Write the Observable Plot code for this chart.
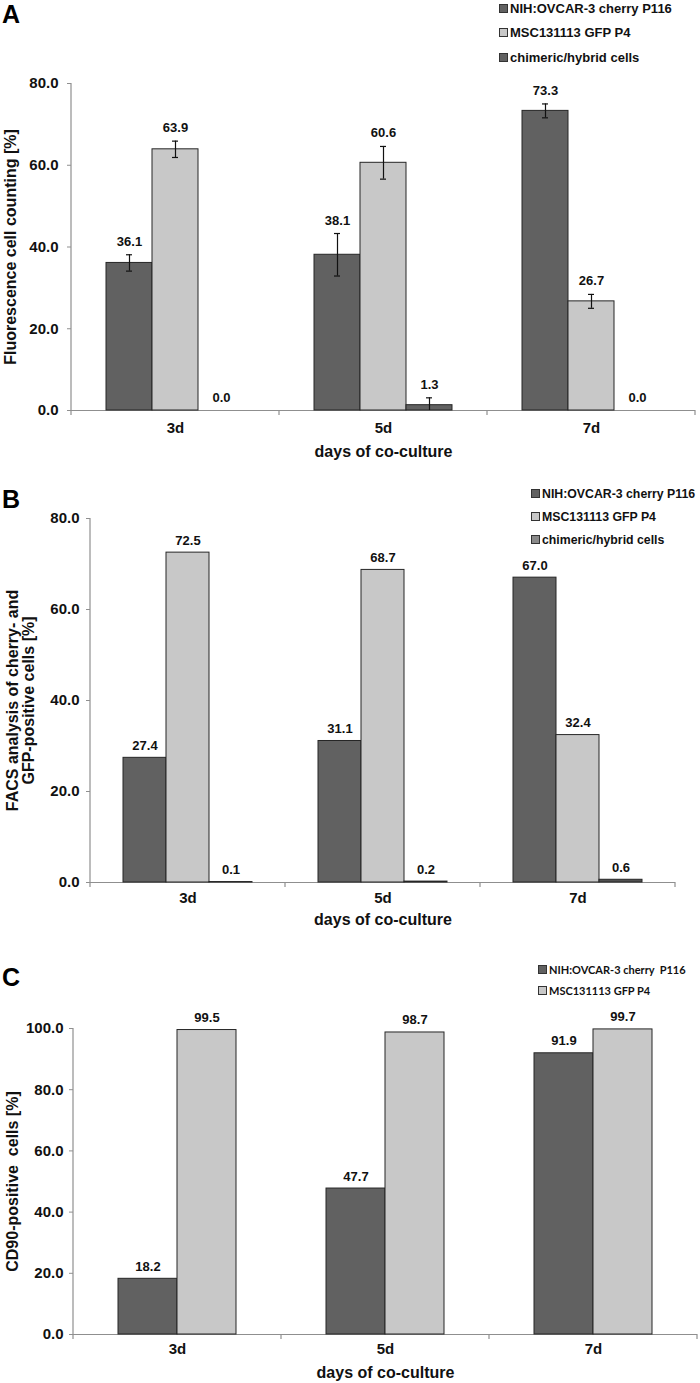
<!DOCTYPE html>
<html>
<head>
<meta charset="utf-8">
<script src="https://cdn.jsdelivr.net/npm/d3@7"></script>
<script src="https://cdn.jsdelivr.net/npm/@observablehq/plot@0.6"></script>
<style>
  html, body { margin: 0; padding: 0; background: #fff; }
  #wrap { position: relative; width: 700px; height: 1383px; background: #fff; font-family: "Liberation Sans", Arial, sans-serif; }
  .panel { position: absolute; left: 0; width: 700px; }
  .letter { position: absolute; left: 2px; font-weight: bold; font-size: 25px; line-height: 1; color: #000; }
  .legend { position: absolute; font-weight: bold; color: #111; }
  .legend .row { display: flex; align-items: center; white-space: pre; }
  .legend .sw { width: 7px; height: 7px; border: 1px solid #333; margin-right: 2px; flex: none; }
  svg g[aria-label$="axis label"] text { font-size: 16px; font-weight: bold; }
</style>
</head>
<body>
<div id="wrap"></div>
<script>
// ---------- data ----------
const days = ["3d", "5d", "7d"];
const seriesAB = ["NIH:OVCAR-3 cherry P116", "MSC131113 GFP P4", "chimeric/hybrid cells"];
const seriesC = ["NIH:OVCAR-3 cherry  P116", "MSC131113 GFP P4"];

// Panel A: fluorescence cell counting (mean, error)
const aOvcar = [36.1, 38.1, 73.3];
const aMsc = [63.9, 60.6, 26.7];
const aHybrid = [0.0, 1.3, 0.0];
const aOvcarErr = [2.0, 5.2, 1.7];
const aMscErr = [2.0, 4.0, 1.7];
const aHybridErr = [0.0, 1.8, 0.0];

// Panel B: FACS analysis
const bOvcar = [27.4, 31.1, 67.0];
const bMsc = [72.5, 68.7, 32.4];
const bHybrid = [0.1, 0.2, 0.6];

// Panel C: CD90-positive cells
const cOvcar = [18.2, 47.7, 91.9];
const cMsc = [99.5, 98.7, 99.7];

const yTicksAB = [0, 20, 40, 60, 80];
const yTicksC = [0, 20, 40, 60, 80, 100];

const colorsA = ["#616161", "#c8c8c8", "#616161"];
const colorsB = ["#616161", "#c8c8c8", "#505050"];
const legendB = ["#616161", "#c8c8c8", "#8a8a8a"];
const colorsC = ["#616161", "#c8c8c8"];

const fmt = d3.format(".1f");
const wrap = document.getElementById("wrap");

function buildRows(series, values, errors) {
  return days.flatMap((d, i) => series.map((s, j) => ({
    day: d, series: s, value: values[j][i], err: errors ? errors[j][i] : 0
  })));
}

function panel(cfg) {
  const rows = buildRows(cfg.series, cfg.values, cfg.errors);
  const errRows = rows.filter(r => r.err > 0);
  const marks = [
    Plot.ruleY([0], {stroke: "#8f8f8f", strokeWidth: 1.2}),
    Plot.barY(rows, {fx: "day", x: "series", y: "value", fill: "series", stroke: "#262626", strokeWidth: 1}),
    Plot.ruleX(errRows, {fx: "day", x: "series", y1: d => Math.max(0, d.value - d.err), y2: d => d.value + d.err, stroke: "#111", strokeWidth: 1.2}),
    Plot.tickY(errRows, {fx: "day", x: "series", y: d => d.value + d.err, stroke: "#111", strokeWidth: 1.2, insetLeft: cfg.capInset, insetRight: cfg.capInset}),
    Plot.tickY(errRows.filter(d => d.value - d.err > 0), {fx: "day", x: "series", y: d => d.value - d.err, stroke: "#111", strokeWidth: 1.2, insetLeft: cfg.capInset, insetRight: cfg.capInset}),
    Plot.text(rows, {fx: "day", x: "series", y: d => d.value + d.err, text: d => fmt(d.value), dy: cfg.valueDy, lineAnchor: "bottom", fontSize: 13, fontWeight: "bold", fill: "#111"}),
    Plot.axisY({ticks: cfg.yTicks, tickFormat: fmt, tickSize: 4, tickPadding: cfg.tickPadding, stroke: "#8f8f8f",
      label: cfg.ylabel, labelAnchor: "center", labelArrow: "none", labelOffset: cfg.labelOffset, fontSize: 15, fontWeight: "bold", fill: "#111"}),
    Plot.axisFx({anchor: "bottom", tickSize: 0, tickPadding: cfg.fxPadding, fontSize: 15, fontWeight: "bold", fill: "#111",
      label: "days of co-culture", labelAnchor: "center", labelArrow: "none", labelOffset: cfg.fxLabelOffset})
  ];
  const chart = Plot.plot({
    width: 700,
    height: cfg.height,
    marginTop: cfg.mt, marginBottom: cfg.mb, marginLeft: cfg.ml, marginRight: cfg.mr,
    style: {fontFamily: "Liberation Sans, Arial, sans-serif", fontSize: "15px", fontWeight: "bold", color: "#111", background: "#fff"},
    fx: {domain: days, padding: 0},
    x: {domain: cfg.series, paddingInner: 0, paddingOuter: cfg.outer, axis: null},
    y: {domain: [0, cfg.yMax]},
    color: {domain: cfg.series, range: cfg.colors},
    marks
  });
  // axis line and category boundary ticks, positioned through the chart's own scales
  const fx = chart.scale("fx");
  const y = chart.scale("y");
  const y0 = y.apply(0), yTop = y.apply(cfg.yMax);
  const svg = d3.select(chart);
  const g = svg.append("g").attr("stroke", "#8f8f8f").attr("stroke-width", 1.2);
  const x0 = fx.apply(days[0]);
  g.append("line").attr("x1", x0).attr("x2", x0).attr("y1", y0).attr("y2", yTop);
  const bounds = days.map(d => fx.apply(d)).concat([fx.apply(days[days.length - 1]) + fx.bandwidth]);
  bounds.forEach(b => g.append("line").attr("x1", b).attr("x2", b).attr("y1", y0).attr("y2", y0 + 5));

  const div = document.createElement("div");
  div.className = "panel";
  div.style.top = cfg.top + "px";
  div.style.height = cfg.height + "px";
  div.appendChild(chart);

  const letter = document.createElement("div");
  letter.className = "letter";
  letter.textContent = cfg.letter;
  letter.style.top = cfg.letterTop + "px";
  div.appendChild(letter);

  const lg = document.createElement("div");
  lg.className = "legend";
  lg.style.left = cfg.legend.left + "px";
  lg.style.top = cfg.legend.top + "px";
  lg.style.fontSize = cfg.legend.fontSize + "px";
  if (cfg.legend.fontFamily) lg.style.fontFamily = cfg.legend.fontFamily;
  cfg.series.forEach((s, i) => {
    const r = document.createElement("div");
    r.className = "row";
    r.style.height = cfg.legend.rowH + "px";
    const sw = document.createElement("span");
    sw.className = "sw";
    sw.style.background = cfg.legend.colors[i];
    r.appendChild(sw);
    const t = document.createElement("span");
    t.textContent = s;
    r.appendChild(t);
    lg.appendChild(r);
  });
  div.appendChild(lg);
  wrap.appendChild(div);
}

panel({
  letter: "A", letterTop: 2, top: 0, height: 465, mt: 83, mb: 55, ml: 70, mr: 5,
  series: seriesAB, values: [aOvcar, aMsc, aHybrid], errors: [aOvcarErr, aMscErr, aHybridErr],
  colors: colorsA, yTicks: yTicksAB, yMax: 80, outer: 0.75, capInset: 20, valueDy: -9,
  tickPadding: 9, ylabel: "Fluorescence cell counting [%]", labelOffset: 67,
  fxPadding: 12, fxLabelOffset: 46,
  legend: {left: 499, top: -4, fontSize: 13, rowH: 24.5, colors: ["#616161", "#c8c8c8", "#616161"]}
});

panel({
  letter: "B", letterTop: 22, top: 465, height: 465, mt: 53, mb: 48, ml: 89, mr: 25,
  series: seriesAB, values: [bOvcar, bMsc, bHybrid], errors: null,
  colors: colorsB, yTicks: yTicksAB, yMax: 80, outer: 0.75, capInset: 19, valueDy: -8,
  tickPadding: 7, ylabel: "FACS analysis of cherry- and\nGFP-positive cells [%]", labelOffset: 84,
  fxPadding: 10, fxLabelOffset: 42,
  legend: {left: 531, top: 17, fontSize: 12.3, rowH: 23, colors: legendB}
});

panel({
  letter: "C", letterTop: 35, top: 930, height: 453, mt: 98, mb: 49, ml: 72, mr: 3,
  series: seriesC, values: [cOvcar, cMsc], errors: null,
  colors: colorsC, yTicks: yTicksC, yMax: 100, outer: 0.75, capInset: 25, valueDy: -8,
  tickPadding: 6, ylabel: "CD90-positive  cells [%]", labelOffset: 67,
  fxPadding: 9, fxLabelOffset: 43,
  legend: {left: 538, top: 29, fontSize: 11, rowH: 21, fontFamily: "Lato, 'Open Sans', sans-serif", colors: colorsC}
});
</script>
</body>
</html>
